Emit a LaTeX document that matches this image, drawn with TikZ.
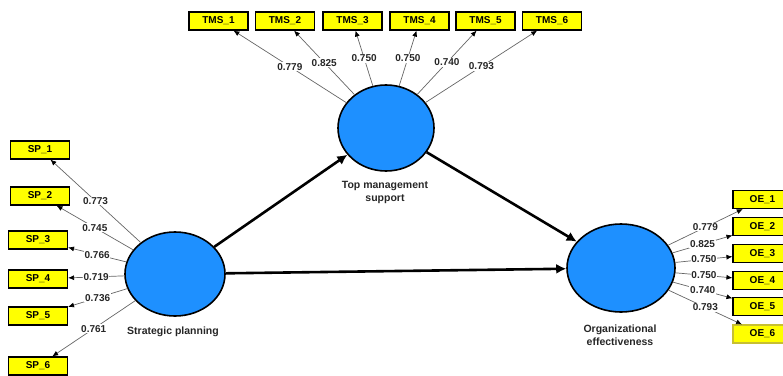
\documentclass[tikz,border=0pt]{standalone}
\usepackage{fontspec}
\setmainfont{Liberation Sans}
\usetikzlibrary{shapes.geometric,arrows.meta}
\definecolor{lvblue}{HTML}{1E90FF}
\definecolor{mvyellow}{HTML}{FFFF00}
\begin{document}
\begin{tikzpicture}[x=1pt,y=-1pt,
    latent/.style={ellipse,draw=black,line width=1.6pt,fill=lvblue,minimum width=100pt,minimum height=84pt,inner sep=0pt},
    indicator/.style={rectangle,draw=black,line width=1.1pt,fill=mvyellow,minimum width=59pt,minimum height=18pt,inner sep=0pt,font=\fontsize{10}{12}\selectfont\bfseries},
    loading/.style={draw=black!60,line width=0.7pt,-{Latex[length=6pt,width=5pt,black]}},
    weight/.style={fill=white,inner sep=0.8pt,font=\fontsize{10}{12}\selectfont\bfseries,text=black!85},
    structural/.style={line width=2.6pt,-{Latex[length=10pt,width=10pt]}},
    lvlabel/.style={align=center,font=\fontsize{10.5}{13}\selectfont\bfseries,text=black!85}]
        \useasboundingbox (0,0) rectangle (783,375);

        % latent variables
        \node [latent] (sp) at (175, 274) {};
        \node [latent, minimum width=96pt, minimum height=86pt] (tms) at (386, 128) {};
        \node [latent, minimum width=108pt, minimum height=88pt] (oe) at (621, 268) {};

        \node at (173, 332) [lvlabel] {Strategic planning};
        \node at (385, 192) [lvlabel] {Top management\\support};
        \node at (620, 335) [lvlabel] {Organizational\\effectiveness};

        % indicators
        \node [indicator] (tms1) at (218.5, 21) {TMS\_1};
        \node [indicator] (tms2) at (285, 21) {TMS\_2};
        \node [indicator] (tms3) at (352.5, 21) {TMS\_3};
        \node [indicator] (tms4) at (419.5, 21) {TMS\_4};
        \node [indicator] (tms5) at (485.5, 21) {TMS\_5};
        \node [indicator] (tms6) at (552, 21) {TMS\_6};

        \node [indicator] (sp1) at (40, 150) {SP\_1};
        \node [indicator] (sp2) at (40, 196) {SP\_2};
        \node [indicator] (sp3) at (38, 240) {SP\_3};
        \node [indicator] (sp4) at (38, 279) {SP\_4};
        \node [indicator] (sp5) at (38, 316) {SP\_5};
        \node [indicator] (sp6) at (38, 366) {SP\_6};

        \node [indicator] (oe1) at (762.5, 199.5) {OE\_1};
        \node [indicator] (oe2) at (762.5, 226.5) {OE\_2};
        \node [indicator] (oe3) at (762.5, 253.5) {OE\_3};
        \node [indicator] (oe4) at (762.5, 280.5) {OE\_4};
        \node [indicator] (oe5) at (762.5, 306.5) {OE\_5};
        \node [indicator, draw=yellow!75!black] (oe6) at (762.5, 334) {OE\_6};

        % outer loadings
        \draw [loading] (tms) -- node [weight] {0.779} (tms1);
        \draw [loading] (tms) -- node [weight] {0.825} (tms2);
        \draw [loading] (tms) -- node [weight] {0.750} (tms3);
        \draw [loading] (tms) -- node [weight] {0.750} (tms4);
        \draw [loading] (tms) -- node [weight] {0.740} (tms5);
        \draw [loading] (tms) -- node [weight] {0.793} (tms6);

        \draw [loading] (sp) -- node [weight] {0.773} (sp1);
        \draw [loading] (sp) -- node [weight] {0.745} (sp2);
        \draw [loading] (sp) -- node [weight] {0.766} (sp3);
        \draw [loading] (sp) -- node [weight] {0.719} (sp4);
        \draw [loading] (sp) -- node [weight] {0.736} (sp5);
        \draw [loading] (sp) -- node [weight] {0.761} (sp6);

        \draw [loading] (oe) -- node [weight] {0.779} (oe1);
        \draw [loading] (oe) -- node [weight] {0.825} (oe2);
        \draw [loading] (oe) -- node [weight] {0.750} (oe3);
        \draw [loading] (oe) -- node [weight] {0.750} (oe4);
        \draw [loading] (oe) -- node [weight] {0.740} (oe5);
        \draw [loading] (oe) -- node [weight] {0.793} (oe6);

        % inner model
        \draw [structural] (sp) -- (tms);
        \draw [structural] (sp) -- (oe);
        \draw [structural] (tms) -- (oe);
    \end{tikzpicture}
\end{document}
